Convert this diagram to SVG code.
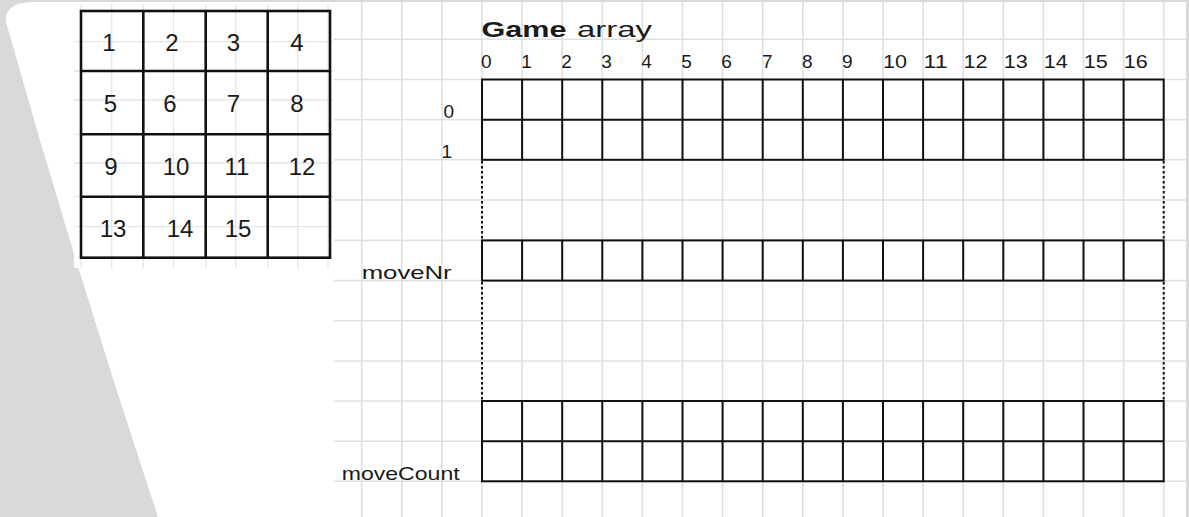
<svg xmlns="http://www.w3.org/2000/svg" width="1189" height="517" viewBox="0 0 1189 517">
<style>
.grid line{stroke:#e0e0e0;stroke-width:1.6}
.pgrid line{stroke:#e6e6e6;stroke-width:1.3}
.pz{fill:none;stroke:#111;stroke-width:2.6}
.cell{fill:none;stroke:#111;stroke-width:2}
.num{font-family:"Liberation Sans",Arial,sans-serif;font-size:24px;fill:#1a1a1a;text-anchor:middle}
.lbl{font-family:"Liberation Sans",Arial,sans-serif;font-size:19px;fill:#1a1a1a}
.dot{stroke:#111;stroke-width:2;stroke-dasharray:2.5 2.5;fill:none}
</style>
<g id="background">
<rect x="0" y="0" width="1189" height="517" fill="#d9d9d9"/>
<path d="M30,2 L1186,2 L1186,517 L158,517 Q76,270.5 6,22 Q4,4 30,2 Z" fill="#ffffff"/>
</g>
<g id="grid" class="grid">
<line x1="334" y1="39.3" x2="1186" y2="39.3"/>
<line x1="334" y1="79.5" x2="1186" y2="79.5"/>
<line x1="334" y1="119.7" x2="1186" y2="119.7"/>
<line x1="334" y1="159.8" x2="1186" y2="159.8"/>
<line x1="334" y1="200" x2="1186" y2="200"/>
<line x1="334" y1="240.4" x2="1186" y2="240.4"/>
<line x1="334" y1="280.6" x2="1186" y2="280.6"/>
<line x1="334" y1="320.7" x2="1186" y2="320.7"/>
<line x1="334" y1="361" x2="1186" y2="361"/>
<line x1="334" y1="401" x2="1186" y2="401"/>
<line x1="334" y1="441.2" x2="1186" y2="441.2"/>
<line x1="334" y1="481.3" x2="1186" y2="481.3"/>
<line x1="361.7" y1="2" x2="361.7" y2="517"/>
<line x1="401.8" y1="2" x2="401.8" y2="517"/>
<line x1="441.9" y1="2" x2="441.9" y2="517"/>
<line x1="482" y1="2" x2="482" y2="517"/>
<line x1="522.1" y1="2" x2="522.1" y2="517"/>
<line x1="562.2" y1="2" x2="562.2" y2="517"/>
<line x1="602.3" y1="2" x2="602.3" y2="517"/>
<line x1="642.4" y1="2" x2="642.4" y2="517"/>
<line x1="682.5" y1="2" x2="682.5" y2="517"/>
<line x1="722.6" y1="2" x2="722.6" y2="517"/>
<line x1="762.7" y1="2" x2="762.7" y2="517"/>
<line x1="802.8" y1="2" x2="802.8" y2="517"/>
<line x1="842.9" y1="2" x2="842.9" y2="517"/>
<line x1="883" y1="2" x2="883" y2="517"/>
<line x1="923.1" y1="2" x2="923.1" y2="517"/>
<line x1="963.2" y1="2" x2="963.2" y2="517"/>
<line x1="1003.3" y1="2" x2="1003.3" y2="517"/>
<line x1="1043.4" y1="2" x2="1043.4" y2="517"/>
<line x1="1083.5" y1="2" x2="1083.5" y2="517"/>
<line x1="1123.6" y1="2" x2="1123.6" y2="517"/>
<line x1="1163.7" y1="2" x2="1163.7" y2="517"/>
</g>
<g id="puzzle">
<rect x="74" y="4" width="259" height="264" fill="#ffffff"/>
<g class="pgrid">
<line x1="81" y1="4" x2="81" y2="268"/>
<line x1="111.7" y1="4" x2="111.7" y2="268"/>
<line x1="143.3" y1="4" x2="143.3" y2="268"/>
<line x1="173.5" y1="4" x2="173.5" y2="268"/>
<line x1="205.7" y1="4" x2="205.7" y2="268"/>
<line x1="235.7" y1="4" x2="235.7" y2="268"/>
<line x1="267.7" y1="4" x2="267.7" y2="268"/>
<line x1="297.7" y1="4" x2="297.7" y2="268"/>
<line x1="328" y1="4" x2="328" y2="268"/>
<line x1="74" y1="41.7" x2="333" y2="41.7"/>
<line x1="74" y1="71" x2="333" y2="71"/>
<line x1="74" y1="100" x2="333" y2="100"/>
<line x1="74" y1="134.3" x2="333" y2="134.3"/>
<line x1="74" y1="163" x2="333" y2="163"/>
<line x1="74" y1="196.7" x2="333" y2="196.7"/>
<line x1="74" y1="226.7" x2="333" y2="226.7"/>
</g>
<rect class="pz" x="81" y="11" width="249" height="246.7"/>
<line class="pz" x1="143.3" y1="11" x2="143.3" y2="257.7"/>
<line class="pz" x1="205.7" y1="11" x2="205.7" y2="257.7"/>
<line class="pz" x1="267.7" y1="11" x2="267.7" y2="257.7"/>
<line class="pz" x1="81" y1="71" x2="330" y2="71"/>
<line class="pz" x1="81" y1="134.3" x2="330" y2="134.3"/>
<line class="pz" x1="81" y1="196.7" x2="330" y2="196.7"/>
<text class="num" x="109" y="51">1</text>
<text class="num" x="172" y="51">2</text>
<text class="num" x="233.5" y="51">3</text>
<text class="num" x="297" y="51">4</text>
<text class="num" x="110.5" y="112">5</text>
<text class="num" x="170" y="112">6</text>
<text class="num" x="233.5" y="112">7</text>
<text class="num" x="297" y="112">8</text>
<text class="num" x="111" y="175">9</text>
<text class="num" x="176" y="175">10</text>
<text class="num" x="237" y="175">11</text>
<text class="num" x="302" y="175">12</text>
<text class="num" x="113" y="236.5">13</text>
<text class="num" x="180" y="236.5">14</text>
<text class="num" x="238" y="236.5">15</text>
</g>
<g id="title">
<text x="481.5" y="36.7" font-family="'Liberation Sans',Arial,sans-serif" font-size="22" font-weight="bold" fill="#1a1a1a" textLength="85" lengthAdjust="spacingAndGlyphs">Game</text>
<text x="577" y="36.7" font-family="'Liberation Sans',Arial,sans-serif" font-size="22" fill="#1a1a1a" textLength="75" lengthAdjust="spacingAndGlyphs">array</text>
</g>
<g id="column-indices" class="lbl">
<text x="481" y="68.3">0</text>
<text x="521.3" y="68.3">1</text>
<text x="561.3" y="68.3">2</text>
<text x="601.3" y="68.3">3</text>
<text x="641.3" y="68.3">4</text>
<text x="681.3" y="68.3">5</text>
<text x="721.3" y="68.3">6</text>
<text x="762" y="68.3">7</text>
<text x="802" y="68.3">8</text>
<text x="842" y="68.3">9</text>
<text x="883" y="68.3" textLength="24" lengthAdjust="spacingAndGlyphs">10</text>
<text x="923.5" y="68.3" textLength="24" lengthAdjust="spacingAndGlyphs">11</text>
<text x="963.5" y="68.3" textLength="24" lengthAdjust="spacingAndGlyphs">12</text>
<text x="1003.7" y="68.3" textLength="24" lengthAdjust="spacingAndGlyphs">13</text>
<text x="1043.7" y="68.3" textLength="24" lengthAdjust="spacingAndGlyphs">14</text>
<text x="1083.8" y="68.3" textLength="24" lengthAdjust="spacingAndGlyphs">15</text>
<text x="1123.8" y="68.3" textLength="24" lengthAdjust="spacingAndGlyphs">16</text>
</g>
<g id="game-array">
<text class="lbl" x="454" y="118.3" text-anchor="end">0</text>
<text class="lbl" x="452" y="158.3" text-anchor="end">1</text>
<rect class="cell" x="482" y="79.5" width="681.7" height="80.3"/>
<line class="cell" x1="482" y1="119.7" x2="1163.7" y2="119.7"/>
<path class="cell" d="M522.1,79.5V159.8M562.2,79.5V159.8M602.3,79.5V159.8M642.4,79.5V159.8M682.5,79.5V159.8M722.6,79.5V159.8M762.7,79.5V159.8M802.8,79.5V159.8M842.9,79.5V159.8M883,79.5V159.8M923.1,79.5V159.8M963.2,79.5V159.8M1003.3,79.5V159.8M1043.4,79.5V159.8M1083.5,79.5V159.8M1123.6,79.5V159.8"/>
</g>
<g id="moveNr">
<text class="lbl" x="361.7" y="279.3" font-size="18" textLength="90" lengthAdjust="spacingAndGlyphs">moveNr</text>
<rect class="cell" x="482" y="240.4" width="681.7" height="40.2"/>
<path class="cell" d="M522.1,240.4V280.6M562.2,240.4V280.6M602.3,240.4V280.6M642.4,240.4V280.6M682.5,240.4V280.6M722.6,240.4V280.6M762.7,240.4V280.6M802.8,240.4V280.6M842.9,240.4V280.6M883,240.4V280.6M923.1,240.4V280.6M963.2,240.4V280.6M1003.3,240.4V280.6M1043.4,240.4V280.6M1083.5,240.4V280.6M1123.6,240.4V280.6"/>
</g>
<g id="moveCount">
<text class="lbl" x="341.7" y="480" textLength="118" lengthAdjust="spacingAndGlyphs">moveCount</text>
<rect class="cell" x="482" y="401" width="681.7" height="80.3"/>
<line class="cell" x1="482" y1="441.2" x2="1163.7" y2="441.2"/>
<path class="cell" d="M522.1,401V481.3M562.2,401V481.3M602.3,401V481.3M642.4,401V481.3M682.5,401V481.3M722.6,401V481.3M762.7,401V481.3M802.8,401V481.3M842.9,401V481.3M883,401V481.3M923.1,401V481.3M963.2,401V481.3M1003.3,401V481.3M1043.4,401V481.3M1083.5,401V481.3M1123.6,401V481.3"/>
</g>
<g id="connectors">
<line class="dot" x1="482" y1="161" x2="482" y2="239"/>
<line class="dot" x1="482" y1="282" x2="482" y2="400"/>
<line class="dot" x1="1163.7" y1="161" x2="1163.7" y2="239"/>
<line class="dot" x1="1163.7" y1="282" x2="1163.7" y2="400"/>
</g>
</svg>
